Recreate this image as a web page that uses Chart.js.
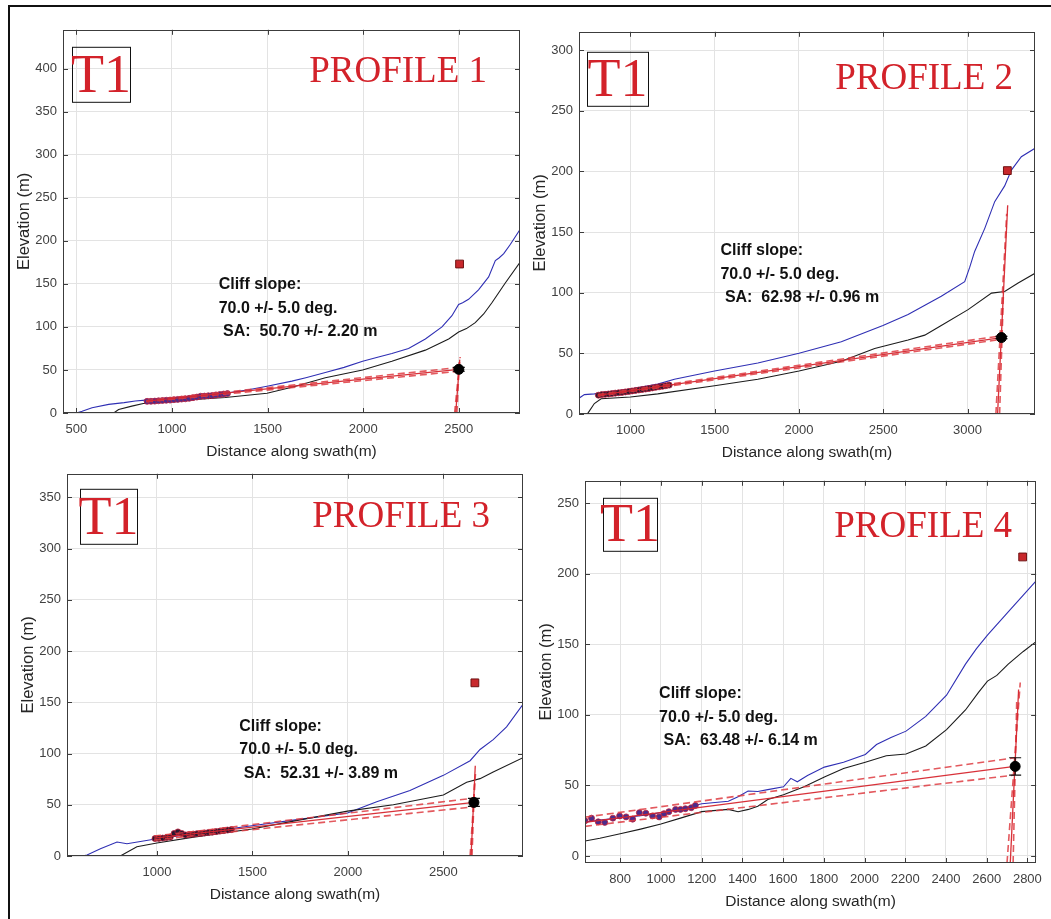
<!DOCTYPE html>
<html lang="en">
<head>
<meta charset="UTF-8" />
<title>T1 cliff profiles</title>
<script src="https://cdn.jsdelivr.net/npm/chart.js"></script>
<style>
  body { margin: 0; background: #fff; }
  #page { position: relative; width: 1051px; height: 919px; overflow: hidden; background: #fff; }
  #frame { position: absolute; left: 8px; top: 5px; width: 1060px; height: 930px; border-top: 2px solid #111; border-left: 2px solid #111; }
  canvas { position: absolute; }
</style>
</head>
<body>
<div id="page">
  <div id="frame"></div>
  <canvas id="p1"></canvas>
  <canvas id="p2"></canvas>
  <canvas id="p3"></canvas>
  <canvas id="p4"></canvas>
</div>
<script>
// ---- PROFILE 1 ----
const p1XRange = [430, 2820];
const p1YRange = [0, 445];
const p1XTicks = [500, 1000, 1500, 2000, 2500];
const p1YTicks = [0, 50, 100, 150, 200, 250, 300, 350, 400];
const p1Blue = [[440,0],[500,0],[530,2],[582,6],[669,10],[750,12],[808,14],[861,15],[1000,17],[1139,20],[1279,23],[1400,27],[1497,31],[1627,37],[1700,41],[1802,47],[1900,53],[1997,60],[2080,65],[2150,69],[2237,75],[2325,86],[2412,100],[2464,113],[2499,126],[2520,128],[2551,132],[2603,143],[2656,158],[2691,177],[2710,180],[2735,185],[2770,196],[2820,213]];
const p1Black = [[430,0],[695,0],[721,4],[790,8],[850,11],[1000,14],[1279,18],[1497,23],[1627,30],[1802,41],[1997,50],[2150,60],[2325,73],[2447,86],[2499,94],[2540,98],[2586,105],[2630,115],[2673,128],[2743,151],[2820,175]];
const p1Points = [[870,13.5],[890,13.6],[910,13.8],[930,14.2],[950,14.5],[970,14.8],[990,15.0],[1010,15.5],[1030,15.8],[1050,16.2],[1070,16.5],[1090,17.0],[1110,17.8],[1130,18.5],[1150,19.5],[1170,19.6],[1190,20.0],[1210,20.3],[1230,21.0],[1250,21.5],[1270,22.0],[1290,22.6]];
const p1Fit = [[865,13.7],[2500,50.7]];
const p1FitHi = [[865,14.5],[2500,52.9]];
const p1FitLo = [[865,12.9],[2500,48.5]];
const p1Cliff = [[2484,0],[2505,62]];
const p1CliffA = [[2478,0],[2507,65]];
const p1CliffB = [[2490,0],[2503,60]];
const p1Edge = [2500, 50.7, 2.2];
const p1Top = [2504, 173];
const p1Text = ['Cliff slope:', '70.0 +/- 5.0 deg.', ' SA:  50.70 +/- 2.20 m'];
const p1TextAt = [1244, 149];

// ---- PROFILE 2 ----
const p2XRange = [695, 3400];
const p2YRange = [0, 315];
const p2XTicks = [1000, 1500, 2000, 2500, 3000];
const p2YTicks = [0, 50, 100, 150, 200, 250, 300];
const p2Blue = [[695,13],[727,16],[786,16.6],[865,18],[1000,20.6],[1162,24.6],[1261,28.7],[1499,35.4],[1756,42],[2000,50],[2251,59.5],[2498,73],[2647,82],[2844,97],[2983,109],[3013,121],[3042,134],[3102,153],[3161,175],[3220,188],[3260,201],[3319,212],[3400,219]];
const p2Black = [[695,0],[747,0.5],[786,8.6],[826,12.6],[1000,14],[1162,16.6],[1499,23.3],[1756,28.7],[2000,35.4],[2251,43.4],[2449,54],[2647,61],[2746,65],[2844,73],[3003,86],[3142,99.6],[3220,101],[3300,108],[3400,116]];
const p2Points = [[810,15.5],[830,16],[850,16.2],[870,16.5],[890,16.8],[910,17.2],[930,17.5],[950,17.8],[970,18.2],[990,18.6],[1010,19],[1030,19.4],[1050,19.8],[1070,20.2],[1090,20.6],[1110,21],[1130,21.5],[1150,22],[1170,22.4],[1190,22.8],[1210,23.3],[1230,23.8]];
const p2Fit = [[806,15.3],[3201,63]];
const p2FitHi = [[806,16],[3201,64.5]];
const p2FitLo = [[806,14.6],[3201,61.5]];
const p2Cliff = [[3178,0],[3238,172]];
const p2CliffA = [[3168,0],[3232,165]];
const p2CliffB = [[3190,0],[3213,100]];
const p2Edge = [3201, 63, 0.96];
const p2Top = [3236, 200.6];
const p2Text = ['Cliff slope:', '70.0 +/- 5.0 deg.', ' SA:  62.98 +/- 0.96 m'];
const p2TextAt = [1534, 134.5];

// ---- PROFILE 3 ----
const p3XRange = [529, 2917];
const p3YRange = [0, 373];
const p3XTicks = [1000, 1500, 2000, 2500];
const p3YTicks = [0, 50, 100, 150, 200, 250, 300, 350];
const p3Blue = [[529,0],[610,0],[634,1],[704,7],[791,13.6],[843,12],[1000,16.8],[1192,21.6],[1497,29.5],[1715,35],[1998,42],[2151,53],[2325,64],[2500,78.7],[2640,93],[2692,104],[2761,113.5],[2831,126],[2917,148]];
const p3Black = [[529,0],[808,0],[895,9],[1000,12.7],[1192,18.4],[1497,26.3],[1715,34],[1998,43.8],[2238,50],[2500,59.6],[2622,72],[2692,75.5],[2761,82],[2917,96]];
const p3Points = [[990,17],[1010,17.2],[1030,17.5],[1050,18],[1070,18.5],[1090,22],[1110,23.5],[1130,22],[1150,20.5],[1170,21],[1190,21.3],[1210,21.8],[1230,22],[1250,22.5],[1270,23],[1290,23.3],[1310,23.8],[1330,24.3],[1350,24.8],[1370,25.3],[1390,25.8]];
const p3Fit = [[985,17.5],[2660,52.3]];
const p3FitHi = [[985,19.5],[1200,24],[2660,56.5]];
const p3FitLo = [[985,15.5],[1200,20],[2660,48]];
const p3Cliff = [[2645,0],[2667,88]];
const p3CliffA = [[2640,0],[2668,80]];
const p3CliffB = [[2650,0],[2663,70]];
const p3Edge = [2660, 52.3, 3.89];
const p3Top = [2665, 169];
const p3Text = ['Cliff slope:', '70.0 +/- 5.0 deg.', ' SA:  52.31 +/- 3.89 m'];
const p3TextAt = [1431, 126.4];

// ---- PROFILE 4 ----
const p4XRange = [627, 2843];
const p4YRange = [-5, 266];
const p4XTicks = [800, 1000, 1200, 1400, 1600, 1800, 2000, 2200, 2400, 2600, 2800];
const p4YTicks = [0, 50, 100, 150, 200, 250];
const p4Blue = [[627,24],[700,25.5],[800,27],[900,28.5],[1000,30.7],[1100,33.5],[1201,37],[1331,38.8],[1379,42],[1428,46],[1476,45.7],[1525,47],[1602,49],[1638,55],[1670,52.6],[1720,57],[1803,63],[1897,66.5],[2004,72],[2059,79],[2130,84],[2204,88.5],[2301,99],[2403,114],[2496,136],[2550,147],[2604,156.6],[2706,173],[2780,185],[2843,195]];
const p4Black = [[627,10.6],[700,12.5],[800,15.7],[900,19],[1000,22.6],[1100,27],[1201,31.4],[1331,33],[1379,31.4],[1430,33],[1476,35.3],[1525,40],[1602,43.4],[1703,49],[1803,56],[1897,62],[2004,66.5],[2107,71],[2204,72.3],[2301,78],[2403,89.6],[2496,103.5],[2560,116],[2604,124],[2650,128],[2706,136],[2780,145],[2843,152]];
const p4Points = [[627,24.9],[659,26.8],[692,24.2],[724,23.8],[764,26.8],[797,28.4],[829,27.7],[861,26.1],[894,30.7],[926,30.3],[959,28.4],[991,27.7],[1015,30],[1039,31.4],[1072,33],[1096,33],[1120,33.5],[1149,34.2],[1169,35.8]];
const p4Fit = [[627,23.8],[2738,63.5]];
const p4FitHi = [[627,27.5],[2738,69.6]];
const p4FitLo = [[627,21],[2738,57.4]];
const p4Cliff = [[2716,-5],[2757,118]];
const p4CliffA = [[2700,-5],[2765,123]];
const p4CliffB = [[2730,-5],[2748,112]];
const p4Edge = [2740, 63.5, 6.14];
const p4Top = [2777, 212];
const p4Text = ['Cliff slope:', '70.0 +/- 5.0 deg.', ' SA:  63.48 +/- 6.14 m'];
const p4TextAt = [991, 115];

const FONT = "'Liberation Sans', Arial, Helvetica, sans-serif";
const SERIF = "'Liberation Serif', 'Times New Roman', serif";
Chart.defaults.font.family = FONT;

const BLUE = '#2f2fb4';
const DARK = '#1c1c1c';
const RED = 'rgba(214,38,46,0.95)';
const REDDASH = 'rgba(222,60,66,0.85)';

function pts(arr) { return arr.map(([x, y]) => ({ x, y })); }

function lineDs(arr, color, width, dash) {
  return { data: pts(arr), showLine: true, borderColor: color, borderWidth: width,
           borderDash: dash || [], pointRadius: 0, fill: false, tension: 0 };
}

function makePanel(id, p) {
  const W = 48, H = 50, PT = 5;
  const cv = document.getElementById(id);
  const left = p.area[0] - W, top = p.area[1] - PT;
  const width = p.area[2] + p.padR - left;
  const height = p.area[3] + H - top;
  cv.style.left = left + 'px';
  cv.style.top = top + 'px';
  cv.width = width; cv.height = height;
  cv.style.width = width + 'px'; cv.style.height = height + 'px';

  const [ex, ey, ee] = p.edge;
  const datasets = [
    { data: pts([p.top]), pointStyle: 'rect', pointRadius: 5.5, backgroundColor: '#c8282c', borderColor: '#6e1212', borderWidth: 1 },
    { data: pts([[ex, ey]]), pointStyle: 'circle', pointRadius: 5, backgroundColor: '#000', borderColor: '#000', borderWidth: 1 },
    { data: pts([[ex, ey - ee], [ex, ey + ee]]), showLine: true, borderColor: '#111', borderWidth: 1.2,
      pointStyle: 'line', pointRadius: 6, pointBorderColor: '#111', pointBorderWidth: 1.2 },
    lineDs(p.cliff, RED, 1.3),
    lineDs(p.cliffA, REDDASH, 1.6, [7, 4]),
    lineDs(p.cliffB, REDDASH, 1.6, [7, 4]),
    lineDs(p.fit, RED, 1.3),
    lineDs(p.fitHi, REDDASH, 1.6, [7, 4]),
    lineDs(p.fitLo, REDDASH, 1.6, [7, 4]),
    { data: pts(p.points), pointStyle: 'circle', pointRadius: 3, backgroundColor: p.dotColor, borderColor: 'rgba(190,30,60,0.8)', borderWidth: 1 },
    lineDs(p.black, DARK, 1.1),
    lineDs(p.blue, BLUE, 1.1)
  ];

  const decor = {
    id: 'decor' + id,
    afterDraw(chart) {
      const { ctx, chartArea: a, scales } = chart;
      const xs = scales.x, ys = scales.y;
      ctx.save();
      // box with inward ticks on all sides
      ctx.strokeStyle = '#3c3c3c';
      ctx.lineWidth = 1;
      ctx.strokeRect(Math.round(a.left) + 0.5, Math.round(a.top) + 0.5,
                     Math.round(a.right - a.left) - 1, Math.round(a.bottom - a.top) - 1);
      ctx.beginPath();
      xs.ticks.forEach(t => {
        const px = Math.round(xs.getPixelForValue(t.value)) + 0.5;
        ctx.moveTo(px, a.bottom); ctx.lineTo(px, a.bottom - 5);
        ctx.moveTo(px, a.top); ctx.lineTo(px, a.top + 5);
      });
      ys.ticks.forEach(t => {
        const py = Math.round(ys.getPixelForValue(t.value)) + 0.5;
        ctx.moveTo(a.left, py); ctx.lineTo(a.left + 5, py);
        ctx.moveTo(a.right, py); ctx.lineTo(a.right - 5, py);
      });
      ctx.stroke();

      // T1 box
      const [bx, by, bw, bh] = p.tbox;
      ctx.strokeStyle = '#111';
      ctx.strokeRect(a.left + bx + 0.5, a.top + by + 0.5, bw, bh);
      ctx.fillStyle = '#d3222a';
      ctx.font = '54px ' + SERIF;
      ctx.textAlign = 'center';
      ctx.textBaseline = 'alphabetic';
      ctx.fillText('T1', a.left + bx + bw / 2, a.top + by + bh - 10);

      // PROFILE label
      ctx.font = '37px ' + SERIF;
      ctx.textAlign = 'right';
      ctx.fillText(p.title, a.right - p.titleInset, a.top + p.titleBase);

      // cliff annotation
      ctx.fillStyle = '#111';
      ctx.font = 'bold 16px ' + FONT;
      ctx.textAlign = 'left';
      ctx.textBaseline = 'middle';
      const tx = xs.getPixelForValue(p.textAt[0]);
      const ty = ys.getPixelForValue(p.textAt[1]);
      p.text.forEach((s, i) => ctx.fillText(s, tx, ty + i * 23.5));
      ctx.restore();
    }
  };

  const tickFont = { family: FONT, size: 13 };
  return new Chart(cv, {
    type: 'scatter',
    data: { datasets },
    options: {
      responsive: false,
      animation: false,
      devicePixelRatio: 1,
      layout: { padding: { top: PT, right: p.padR, left: 0, bottom: 0 } },
      plugins: { legend: { display: false }, tooltip: { enabled: false } },
      scales: {
        x: {
          type: 'linear', min: p.xRange[0], max: p.xRange[1],
          afterBuildTicks: s => { s.ticks = p.xTicks.map(v => ({ value: v })); },
          afterFit: s => { s.height = H; },
          grid: { color: '#e3e3e3', drawTicks: false },
          border: { display: false },
          ticks: { color: '#404040', font: tickFont, padding: 9, maxRotation: 0, autoSkip: false, callback: v => String(v) },
          title: { display: true, text: 'Distance along swath(m)', color: '#262626', font: { family: FONT, size: 15.5 }, padding: { top: 0, bottom: 2 } }
        },
        y: {
          type: 'linear', min: p.yRange[0], max: p.yRange[1],
          afterBuildTicks: s => { s.ticks = p.yTicks.map(v => ({ value: v })); },
          afterFit: s => { s.width = W; },
          grid: { color: '#e3e3e3', drawTicks: false },
          border: { display: false },
          ticks: { color: '#404040', font: tickFont, padding: 6, autoSkip: false, callback: v => String(v) },
          title: { display: true, text: 'Elevation (m)', color: '#262626', font: { family: FONT, size: 16.5 }, padding: { top: 0, bottom: 0 } }
        }
      }
    },
    plugins: [decor]
  });
}

makePanel('p1', {
  area: [63, 21, 520, 413], padR: 20,
  xRange: p1XRange, yRange: p1YRange, xTicks: p1XTicks, yTicks: p1YTicks,
  blue: p1Blue, black: p1Black, points: p1Points, dotColor: '#4a2c8c',
  fit: p1Fit, fitHi: p1FitHi, fitLo: p1FitLo,
  cliff: p1Cliff, cliffA: p1CliffA, cliffB: p1CliffB,
  edge: p1Edge, top: p1Top, text: p1Text, textAt: p1TextAt,
  tbox: [9, 17, 58, 55], title: 'PROFILE 1', titleInset: 33, titleBase: 52
});
makePanel('p2', {
  area: [579, 23, 1035, 414], padR: 16,
  xRange: p2XRange, yRange: p2YRange, xTicks: p2XTicks, yTicks: p2YTicks,
  blue: p2Blue, black: p2Black, points: p2Points, dotColor: '#2a1830',
  fit: p2Fit, fitHi: p2FitHi, fitLo: p2FitLo,
  cliff: p2Cliff, cliffA: p2CliffA, cliffB: p2CliffB,
  edge: p2Edge, top: p2Top, text: p2Text, textAt: p2TextAt,
  tbox: [8, 20, 61, 54], title: 'PROFILE 2', titleInset: 22, titleBase: 57
});
makePanel('p3', {
  area: [67, 465, 523, 856], padR: 20,
  xRange: p3XRange, yRange: p3YRange, xTicks: p3XTicks, yTicks: p3YTicks,
  blue: p3Blue, black: p3Black, points: p3Points, dotColor: '#2a1830',
  fit: p3Fit, fitHi: p3FitHi, fitLo: p3FitLo,
  cliff: p3Cliff, cliffA: p3CliffA, cliffB: p3CliffB,
  edge: p3Edge, top: p3Top, text: p3Text, textAt: p3TextAt,
  tbox: [13, 15, 57, 55], title: 'PROFILE 3', titleInset: 33, titleBase: 53
});
makePanel('p4', {
  area: [585, 472, 1042, 863], padR: 9,
  xRange: p4XRange, yRange: p4YRange, xTicks: p4XTicks, yTicks: p4YTicks,
  blue: p4Blue, black: p4Black, points: p4Points, dotColor: '#4a2c8c',
  fit: p4Fit, fitHi: p4FitHi, fitLo: p4FitLo,
  cliff: p4Cliff, cliffA: p4CliffA, cliffB: p4CliffB,
  edge: p4Edge, top: p4Top, text: p4Text, textAt: p4TextAt,
  tbox: [18, 17, 54, 53], title: 'PROFILE 4', titleInset: 24, titleBase: 56
});
</script>
</body>
</html>
